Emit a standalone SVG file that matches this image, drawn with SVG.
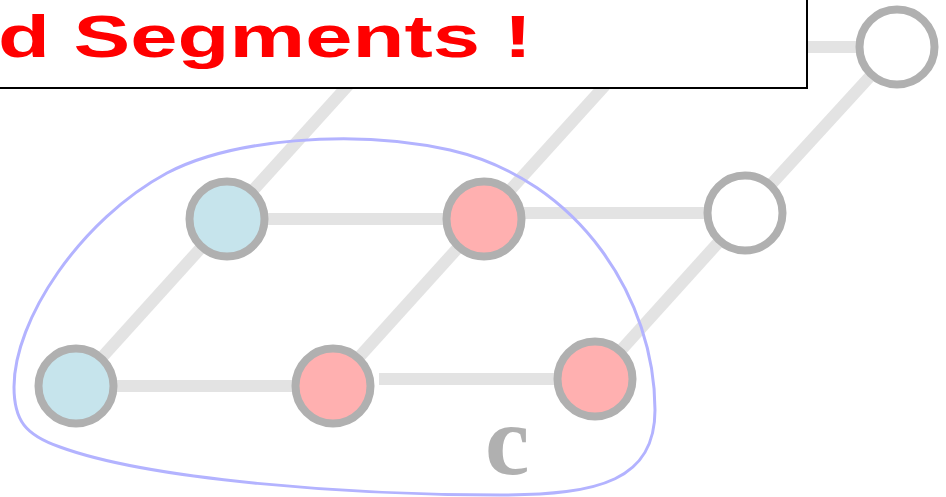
<svg xmlns="http://www.w3.org/2000/svg" width="946" height="497" viewBox="0 0 946 497">
<style>
.e{stroke:#e3e3e3;stroke-width:12;fill:none}
.n{stroke:#b0b0b0;stroke-width:8}
.blue{fill:#c6e4ec}
.pink{fill:#ffb0b0}
.white{fill:#ffffff}
</style>
<rect width="946" height="497" fill="#ffffff"/>
<g id="connectors">
<line class="e" x1="76" y1="386" x2="227" y2="219"/>
<line class="e" x1="227" y1="219" x2="400" y2="28"/>
<line class="e" x1="76" y1="386" x2="333" y2="386"/>
<line class="e" x1="227" y1="219" x2="484" y2="219"/>
<line class="e" x1="333" y1="386" x2="484" y2="219"/>
<line class="e" x1="484" y1="219" x2="657" y2="28"/>
<line class="e" x1="484" y1="213" x2="745" y2="213"/>
<line class="e" x1="379" y1="379" x2="595" y2="379"/>
<line class="e" x1="595" y1="379" x2="745" y2="213"/>
<line class="e" x1="745" y1="213" x2="897" y2="47"/>
<line class="e" x1="700" y1="47" x2="897" y2="47"/>
</g>
<g id="hull">
<path d="M500,495 C600,495 655,480 655,410 C655,300 580,180 450,150 C350,128 230,140 167,173 C80,220 14,320 14,387 C14,420 25,435 60,447 C150,480 350,495 500,495 Z" fill="none" stroke="#b3b3ff" stroke-width="3"/>
</g>
<g id="nodeA"><circle class="n blue" cx="76" cy="386" r="37.5"/></g>
<g id="nodeB"><circle class="n blue" cx="227" cy="219" r="37.5"/></g>
<g id="nodeC"><circle class="n pink" cx="333" cy="386" r="37.5"/></g>
<g id="nodeD"><circle class="n pink" cx="484" cy="219" r="37.5"/></g>
<g id="nodeE"><circle class="n pink" cx="595" cy="379" r="37.5"/></g>
<g id="nodeF"><circle class="n white" cx="745" cy="213" r="37.5"/></g>
<g id="nodeG"><circle class="n white" cx="897" cy="47" r="37.5"/></g>
<g id="title">
<rect x="-10" y="-10" width="817" height="98" fill="#ffffff" stroke="#000000" stroke-width="2"/>
<text x="-2" y="57" font-family="'Liberation Sans', Arial, sans-serif" font-weight="bold" font-size="60" fill="#ff0000" textLength="534" lengthAdjust="spacingAndGlyphs">d Segments !</text>
</g>
<g id="label-c">
<text x="485" y="474" font-family="'Liberation Serif', 'Times New Roman', serif" font-weight="bold" font-size="100" fill="#b0b0b0">c</text>
</g>
</svg>
